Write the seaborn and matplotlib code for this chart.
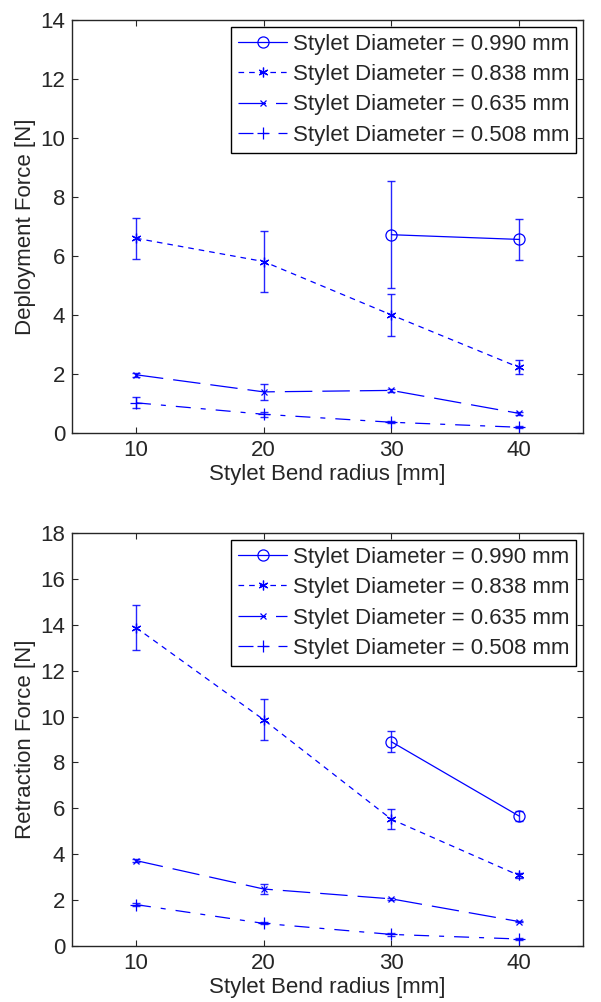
import matplotlib
matplotlib.use('Agg')
import matplotlib.pyplot as plt
import seaborn as sns
import pandas as pd

sns.set_style('ticks')
plt.rcParams['font.family'] = ['Liberation Sans', 'DejaVu Sans']
plt.rcParams['font.size'] = 16
plt.rcParams['xtick.direction'] = 'in'
plt.rcParams['ytick.direction'] = 'in'
plt.rcParams['xtick.top'] = True
plt.rcParams['ytick.right'] = True

radius = [10, 20, 30, 40]
diameters = ['0.990', '0.838', '0.635', '0.508']

# deployment force [N], mean and +/- error (None = not measured)
deploy_mean = {
    '0.990': [None, None, 6.72, 6.56],
    '0.838': [6.60, 5.81, 4.00, 2.22],
    '0.635': [1.97, 1.39, 1.44, 0.66],
    '0.508': [1.02, 0.63, 0.36, 0.19],
}
deploy_err = {
    '0.990': [None, None, 1.82, 0.69],
    '0.838': [0.70, 1.03, 0.72, 0.24],
    '0.635': [0.06, 0.26, 0.05, 0.05],
    '0.508': [0.18, 0.08, 0.03, 0.03],
}

# retraction force [N]
retract_mean = {
    '0.990': [None, None, 8.90, 5.66],
    '0.838': [13.88, 9.86, 5.52, 3.07],
    '0.635': [3.72, 2.48, 2.05, 1.06],
    '0.508': [1.80, 0.98, 0.50, 0.30],
}
retract_err = {
    '0.990': [None, None, 0.45, 0.20],
    '0.838': [1.00, 0.90, 0.43, 0.12],
    '0.635': [0.05, 0.22, 0.04, 0.04],
    '0.508': [0.05, 0.04, 0.08, 0.03],
}

styles = {
    '0.990': dict(marker='o', ms=8, mfc='none', dashes=None),
    '0.838': dict(marker=(6, 2, 0), ms=7, mfc='none', dashes=(4.5, 4)),
    '0.635': dict(marker='x', ms=4.5, mfc='none', dashes=(22, 8)),
    '0.508': dict(marker='+', ms=8, mfc='none', dashes=(12, 8, 4, 8)),
}
blue = '#0000ff'


def to_frame(means, errs):
    rows = []
    for d in diameters:
        for r, m, e in zip(radius, means[d], errs[d]):
            if m is not None:
                rows.append(dict(diameter=d, radius=r, force=m, err=e))
    return pd.DataFrame(rows)


def draw(ax, frame, ymax, ylabel):
    for d in diameters:
        sub = frame[frame.diameter == d]
        st = styles[d]
        sns.lineplot(data=sub, x='radius', y='force', ax=ax, color=blue,
                     lw=0.9, marker=st['marker'], markersize=st['ms'],
                     markerfacecolor=st['mfc'], markeredgecolor=blue,
                     markeredgewidth=0.9,
                     label=f'Stylet Diameter = {d} mm')
        line = ax.lines[-1]
        if st['dashes'] is not None:
            line.set_dashes(st['dashes'])
            line.set_dash_capstyle('butt')
        ax.errorbar(sub['radius'], sub['force'], yerr=sub['err'], fmt='none',
                    ecolor=blue, elinewidth=1.0, capsize=2.6, capthick=1.0,
                    alpha=0.85)
    ax.set_xlim(5, 45)
    ax.set_ylim(0, ymax)
    ax.set_xticks(radius)
    ax.set_yticks(range(0, ymax + 1, 2))
    ax.set_xlabel('Stylet Bend radius [mm]', fontsize=16, labelpad=2)
    ax.set_ylabel(ylabel, fontsize=16, labelpad=3)
    ax.tick_params(labelsize=16, length=4, width=0.8, pad=5)
    for s in ax.spines.values():
        s.set_linewidth(1.0)
    leg = ax.legend(loc='upper right', fontsize=16, frameon=True, fancybox=False,
                    edgecolor='black', framealpha=1, handlelength=2.2,
                    handletextpad=0.25, labelspacing=0.42, borderpad=0.32,
                    borderaxespad=0.3)
    leg.get_frame().set_linewidth(1.0)


fig = plt.figure(figsize=(6.01, 10.02), dpi=100)
ax1 = fig.add_axes([0.120, 0.568, 0.850, 0.412])
ax2 = fig.add_axes([0.120, 0.056, 0.850, 0.412])

draw(ax1, to_frame(deploy_mean, deploy_err), 14, 'Deployment Force [N]')
draw(ax2, to_frame(retract_mean, retract_err), 18, 'Retraction Force [N]')

fig.savefig('out.png', dpi=100)
